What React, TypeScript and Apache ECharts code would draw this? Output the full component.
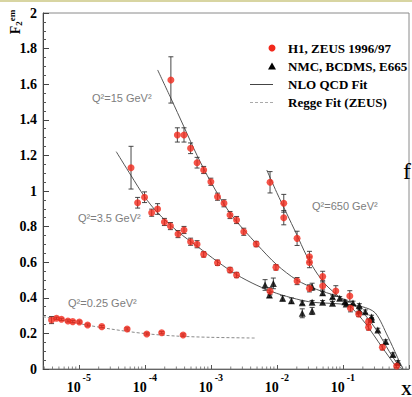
import React, { useEffect, useRef } from 'react';
import * as echarts from 'echarts';

const SERIF = '"Liberation Serif", "Times New Roman", Times, serif';
const SANS = '"Liberation Sans", Arial, Helvetica, sans-serif';

// ---- data: [x, F2, error] ----
const h1Q025: number[][] = [
  [3.87e-6, 0.275, 0.02], [4.6e-6, 0.285, 0.006], [5.46e-6, 0.279, 0.006], [6.85e-6, 0.27, 0.006],
  [8.1e-6, 0.266, 0.006], [1.02e-5, 0.264, 0.006], [1.36e-5, 0.247, 0.006], [2.23e-5, 0.238, 0.006],
  [5.4e-5, 0.225, 0.006], [1.07e-4, 0.197, 0.006], [1.8e-4, 0.204, 0.006], [3.8e-4, 0.191, 0.006],
];
const h1Q35: number[][] = [
  [6.18e-5, 1.131, 0.12], [7.78e-5, 0.934, 0.03], [9.9e-5, 0.965, 0.03], [1.27e-4, 0.878, 0.02],
  [1.56e-4, 0.899, 0.03], [1.98e-4, 0.826, 0.02], [2.44e-4, 0.803, 0.02], [3.18e-4, 0.758, 0.02],
  [3.92e-4, 0.781, 0.02], [4.93e-4, 0.715, 0.02], [6.18e-4, 0.701, 0.02], [7.78e-4, 0.644, 0.015],
  [1.26e-3, 0.597, 0.015], [1.95e-3, 0.556, 0.015], [2.45e-3, 0.528, 0.015], [7.87e-3, 0.437, 0.02],
];
const h1Q15: number[][] = [
  [2.48e-4, 1.624, 0.13], [3.11e-4, 1.315, 0.04], [3.92e-4, 1.315, 0.04], [4.93e-4, 1.24, 0.03],
  [6.18e-4, 1.159, 0.03], [7.78e-4, 1.118, 0.02], [1.0e-3, 1.052, 0.02], [1.26e-3, 0.968, 0.02],
  [1.58e-3, 0.931, 0.02], [1.95e-3, 0.865, 0.02], [2.45e-3, 0.837, 0.02], [3.15e-3, 0.771, 0.02],
  [4.86e-3, 0.702, 0.015], [9.67e-3, 0.571, 0.015], [0.0202, 0.494, 0.02], [0.0311, 0.453, 0.02],
  [0.078, 0.438, 0.03],
];
const h1Q650: number[][] = [
  [7.87e-3, 1.049, 0.06], [0.0127, 0.931, 0.05], [0.0127, 0.85, 0.04], [0.0202, 0.734, 0.04],
  [0.0311, 0.631, 0.03], [0.0311, 0.599, 0.03], [0.0493, 0.519, 0.03], [0.0493, 0.466, 0.03],
  [0.127, 0.41, 0.03], [0.13, 0.341, 0.02], [0.173, 0.309, 0.015], [0.244, 0.266, 0.015],
  [0.244, 0.234, 0.015], [0.395, 0.122, 0.015], [0.649, 0.017, 0.01],
];
const fixedTarget: number[][] = [
  [6.62e-3, 0.472, 0.03], [8.83e-3, 0.481, 0.03], [7.7e-3, 0.416, 0.015], [0.0122, 0.397, 0.015],
  [0.0166, 0.384, 0.015], [0.0242, 0.372, 0.01], [0.0242, 0.313, 0.025], [0.0341, 0.462, 0.02],
  [0.0341, 0.375, 0.01], [0.0341, 0.326, 0.02], [0.0492, 0.429, 0.015], [0.0492, 0.375, 0.01],
  [0.0695, 0.406, 0.01], [0.0695, 0.369, 0.01], [0.0893, 0.397, 0.01], [0.107, 0.378, 0.01],
  [0.112, 0.365, 0.01], [0.142, 0.371, 0.01], [0.177, 0.357, 0.01], [0.177, 0.326, 0.01],
  [0.218, 0.322, 0.01], [0.271, 0.292, 0.01], [0.271, 0.278, 0.01], [0.337, 0.219, 0.01],
  [0.445, 0.154, 0.01], [0.571, 0.081, 0.01], [0.679, 0.037, 0.01],
];
// ---- fits: [x, F2] ----
const nloQ35: number[][] = [
  [3.69e-5, 1.221], [6.18e-5, 1.087], [9.9e-5, 0.968], [1.56e-4, 0.878], [3.18e-4, 0.771],
  [6.32e-4, 0.687], [1.26e-3, 0.603], [2.5e-3, 0.528], [4.98e-3, 0.47], [9.93e-3, 0.425],
  [0.0198, 0.393], [0.0349, 0.375], [0.0871, 0.366], [0.195, 0.35], [0.308, 0.315],
  [0.48, 0.181], [0.655, 0.073], [0.81, 0],
];
const nloQ15: number[][] = [
  [1.563e-4, 1.68], [2.48e-4, 1.521], [3.92e-4, 1.36], [6.18e-4, 1.2], [1.0e-3, 1.05],
  [2.0e-3, 0.87], [5.0e-3, 0.7], [1.0e-2, 0.585], [0.02, 0.5], [0.04, 0.447],
  [0.08, 0.41], [0.14, 0.365], [0.22, 0.3], [0.34, 0.205], [0.5, 0.1],
  [0.65, 0.035], [0.78, 0],
];
const nloQ650: number[][] = [
  [7.02e-3, 1.118], [9.93e-3, 0.992], [0.01397, 0.876], [0.0198, 0.758], [0.0278, 0.64],
  [0.0392, 0.545], [0.0553, 0.472], [0.0871, 0.406], [0.138, 0.341], [0.218, 0.257],
  [0.387, 0.125], [0.612, 0.022], [0.68, 0],
];
const reggeQ025: number[][] = [
  [2.872e-6, 0.294], [5e-6, 0.278], [1e-5, 0.255], [3e-5, 0.225], [1e-4, 0.199],
  [3e-4, 0.185], [1e-3, 0.178], [4.6e-3, 0.174],
];

const binLabels = ['Q²=0.25 GeV²', 'Q²=3.5 GeV²', 'Q²=15 GeV²', 'Q²=650 GeV²'];
const legendLabels = ['H1, ZEUS 1996/97', 'NMC, BCDMS, E665', 'NLO QCD Fit', 'Regge Fit (ZEUS)'];
const xMajorExponents = [-5, -4, -3, -2, -1];
const xMin = 2.872e-6;
const xMax = 1;

const RED = '#f2291c';

export default function App() {
  const ref = useRef<HTMLDivElement>(null);
  useEffect(() => {
    if (!ref.current) return;
    const chart = echarts.init(ref.current, null, { renderer: 'svg' });

    const minorTicks: number[][] = [];
    for (let k = -6; k <= -1; k++) {
      for (let m = 2; m <= 9; m++) {
        const v = m * Math.pow(10, k);
        if (v > xMin && v < xMax) minorTicks.push([v, 0]);
      }
    }
    const allPoints = [...h1Q025, ...h1Q35, ...h1Q15, ...h1Q650, ...fixedTarget];
    const errData = allPoints.map(([x, y, e]) => [x, y - e, y + e]);

    const lineSeries = (data: number[][], dashed = false) => ({
      type: 'line',
      data,
      smooth: 0.3,
      showSymbol: false,
      symbol: 'none',
      silent: true,
      lineStyle: dashed
        ? { color: '#8a8a8a', width: 1, type: [3, 2] }
        : { color: '#555', width: 1 },
      z: 2,
    });
    const redSeries = (data: number[][]) => ({
      type: 'scatter',
      data: data.map((d) => [d[0], d[1]]),
      symbol: 'circle',
      symbolSize: 7,
      itemStyle: { color: RED },
      z: 5,
    });

    const option: any = {
      animation: false,
      backgroundColor: '#ffffff',
      grid: {
        left: 43, top: 13, width: 371, height: 356,
        show: true, borderColor: '#8a8a8a', borderWidth: 1, backgroundColor: 'transparent',
      },
      xAxis: {
        type: 'log',
        logBase: 10,
        min: xMin,
        max: xMax,
        axisLine: { show: true, lineStyle: { color: '#666', width: 1 } },
        axisTick: { show: true, inside: true, length: 4, lineStyle: { color: '#555' } },
        minorTick: { show: false },
        splitLine: { show: false },
        axisLabel: {
          margin: 3,
          formatter: (value: number) => {
            const l = Math.log10(value);
            const e = Math.round(l);
            if (Math.abs(l - e) > 1e-6 || !xMajorExponents.includes(e)) return '';
            return `{b|10}{s|${e}}`;
          },
          rich: {
            b: { fontFamily: SERIF, fontWeight: 'bold', fontSize: 14, color: '#000', padding: [8, 0, 0, 0], verticalAlign: 'bottom' },
            s: { fontFamily: SERIF, fontWeight: 'bold', fontSize: 10, color: '#000', padding: [0, 0, 8, 2], verticalAlign: 'top' },
          },
        },
      },
      yAxis: {
        type: 'value',
        min: 0,
        max: 2,
        interval: 0.2,
        axisLine: { show: true, lineStyle: { color: '#444', width: 1 } },
        axisTick: { show: true, inside: true, length: 6, lineStyle: { color: '#444' } },
        minorTick: { show: true, splitNumber: 4, length: 3, lineStyle: { color: '#555' } },
        splitLine: { show: false },
        axisLabel: { fontFamily: SERIF, fontWeight: 'bold', fontSize: 14, color: '#000', margin: 6 },
      },
      series: [
        lineSeries(reggeQ025, true),
        lineSeries(nloQ35),
        lineSeries(nloQ15),
        lineSeries(nloQ650),
        {
          type: 'custom',
          data: errData,
          encode: { x: 0, y: [1, 2] },
          silent: true,
          z: 4,
          renderItem: (params: any, api: any) => {
            const x = api.value(0);
            const p1 = api.coord([x, api.value(2)]);
            const p2 = api.coord([x, api.value(1)]);
            const w = 2.5;
            const st = { stroke: '#333', lineWidth: 0.9 };
            return {
              type: 'group',
              children: [
                { type: 'line', shape: { x1: p1[0], y1: p1[1], x2: p2[0], y2: p2[1] }, style: st },
                { type: 'line', shape: { x1: p1[0] - w, y1: p1[1], x2: p1[0] + w, y2: p1[1] }, style: st },
                { type: 'line', shape: { x1: p2[0] - w, y1: p2[1], x2: p2[0] + w, y2: p2[1] }, style: st },
              ],
            };
          },
        },
        {
          type: 'scatter',
          data: fixedTarget.map((d) => [d[0], d[1]]),
          symbol: 'triangle',
          symbolSize: 7,
          itemStyle: { color: '#000' },
          z: 5,
        },
        redSeries(h1Q025),
        redSeries(h1Q35),
        redSeries(h1Q15),
        redSeries(h1Q650),
        {
          type: 'scatter',
          data: minorTicks,
          symbol: 'rect',
          symbolSize: [1, 2.5],
          symbolOffset: [0, -1.25],
          itemStyle: { color: '#666' },
          silent: true,
          clip: false,
          z: 1,
        },
      ],
      graphic: [
        { type: 'rect', shape: { x: 0, y: 0, width: 412, height: 2 }, style: { fill: '#d8d5a2' } },
        {
          type: 'text', x: 15, y: 22, rotation: Math.PI / 2,
          style: {
            text: '{f|F}{s|2}{p|em}', align: 'center', verticalAlign: 'middle',
            rich: {
              f: { fontFamily: SERIF, fontWeight: 'bold', fontSize: 14, fill: '#000' },
              s: { fontFamily: SERIF, fontWeight: 'bold', fontSize: 9, fill: '#000', padding: [7, 0, 0, 0], verticalAlign: 'top' },
              p: { fontFamily: SERIF, fontWeight: 'bold', fontSize: 9, fill: '#000', padding: [0, 0, 7, 0], verticalAlign: 'top' },
            },
          },
        },
        // legend
        { type: 'circle', shape: { cx: 272, cy: 48, r: 3.5 }, style: { fill: RED } },
        { type: 'polygon', shape: { points: [[272, 62.5], [268, 69.5], [276, 69.5]] }, style: { fill: '#000' } },
        { type: 'line', shape: { x1: 250, y1: 84.5, x2: 273, y2: 84.5 }, style: { stroke: '#444', lineWidth: 1 } },
        { type: 'line', shape: { x1: 250, y1: 102.5, x2: 273, y2: 102.5 }, style: { stroke: '#aaa', lineWidth: 1, lineDash: [3, 2] } },
        ...legendLabels.map((t, i) => ({
          type: 'text', x: 288, y: [48, 66, 84, 102][i],
          style: { text: t, fontFamily: SERIF, fontWeight: 'bold', fontSize: 13, fill: '#000', align: 'left', verticalAlign: 'middle' },
        })),
        // Q^2 bin labels
        ...binLabels.map((t, i) => ({
          type: 'text', x: [68, 78, 92, 312][i], y: [303, 218, 98, 206][i],
          style: { text: t, fontFamily: SANS, fontSize: 11, fill: '#7d7d7d', align: 'left', verticalAlign: 'middle' },
        })),
        { type: 'text', x: 403, y: 171, style: { text: 'f', fontFamily: SERIF, fontSize: 24, fill: '#000', align: 'left', verticalAlign: 'middle' } },
        { type: 'text', x: 401, y: 390, style: { text: 'X', fontFamily: SERIF, fontWeight: 'bold', fontSize: 15, fill: '#000', align: 'left', verticalAlign: 'middle' } },
      ],
    };
    chart.setOption(option);
    return () => chart.dispose();
  }, []);
  return (
    <div
      ref={ref}
      style={{ position: 'absolute', left: 0, top: 0, width: 412, height: 397, background: '#fff' }}
    />
  );
}
